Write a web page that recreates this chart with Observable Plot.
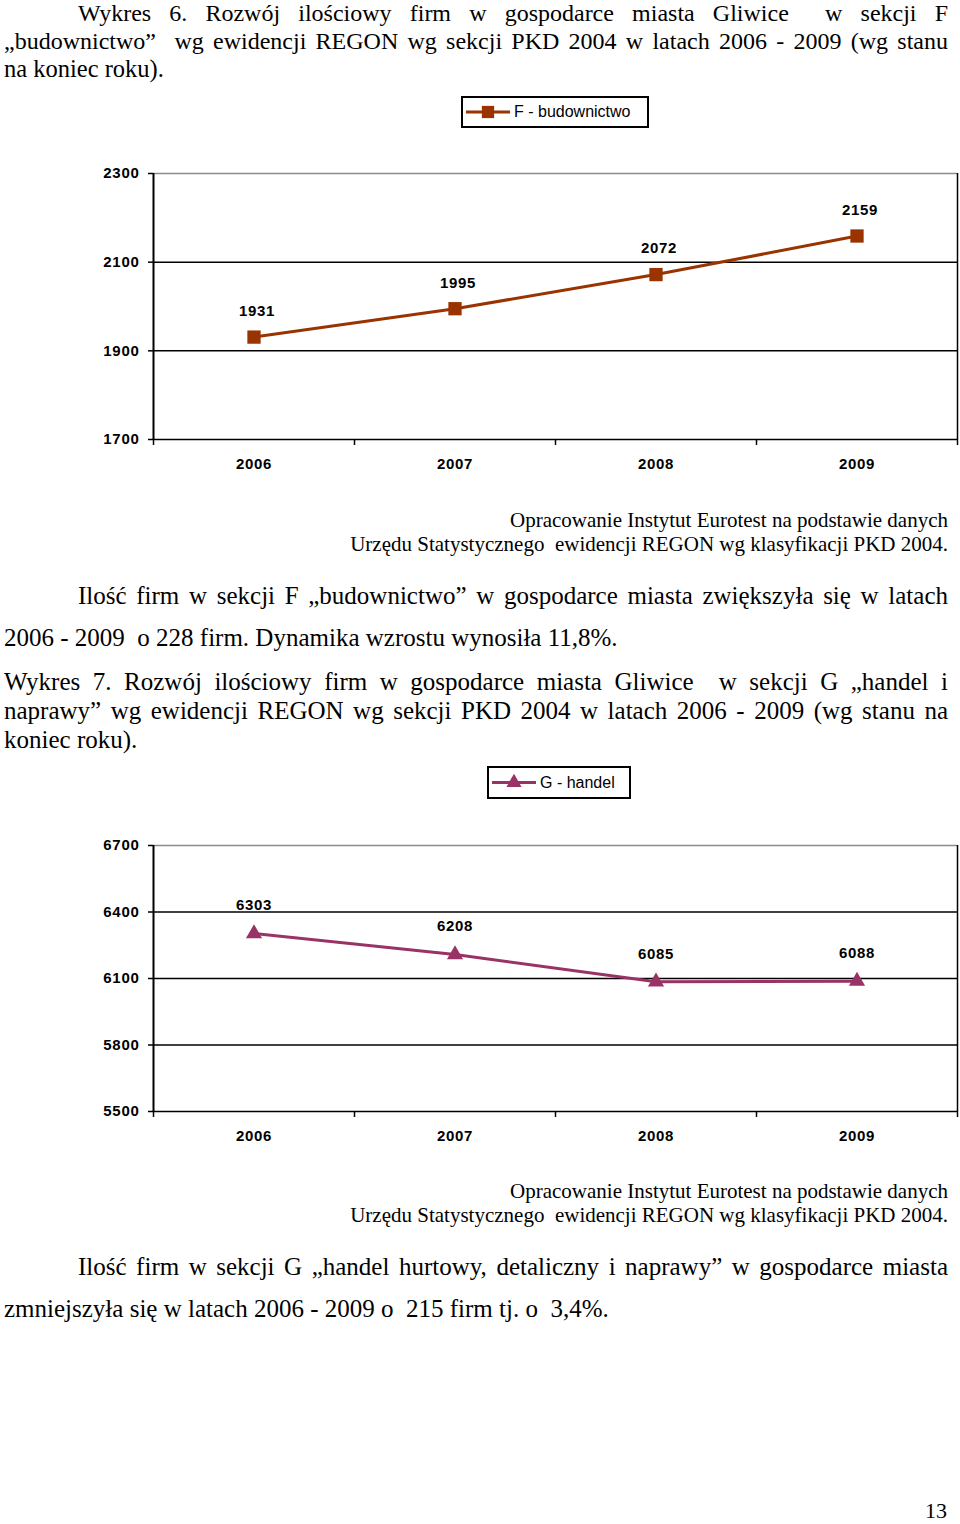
<!DOCTYPE html>
<html><head><meta charset="utf-8">
<script src="https://cdn.jsdelivr.net/npm/d3@7"></script>
<script src="https://cdn.jsdelivr.net/npm/@observablehq/plot@0.6"></script>
<style>
body{margin:0;background:#fff}
#page{position:relative;width:960px;height:1524px;overflow:hidden;font-family:"Liberation Serif","Times New Roman",serif;color:#000;background:#fff}
.t{position:absolute;line-height:1;white-space:nowrap}
.j{white-space:normal;text-align:justify;text-align-last:justify}
.r{text-align:right}
.chart{position:absolute;left:0}
.legend{position:absolute;box-sizing:border-box;border:2px solid #000;font-family:"Liberation Sans",Arial,sans-serif;font-size:16px;background:#fff}
.legend span{position:absolute;line-height:1;white-space:nowrap}
.legend svg{position:absolute;left:0;top:0}
</style></head><body><div id="page"></div>
<script>
// ---- data ----
const years = [2006, 2007, 2008, 2009];
const budownictwo = [1931, 1995, 2072, 2159];
const handel = [6303, 6208, 6085, 6088];
const ticksF = [1700, 1900, 2100, 2300];
const ticksG = [5500, 5800, 6100, 6400, 6700];
const seriesF = "F - budownictwo";
const seriesG = "G - handel";
const colorF = "#993300";
const colorG = "#993366";

// ---- page text ----
const lines = [
  {t:"Wykres 6. Rozwój ilościowy firm w gospodarce miasta Gliwice\u00a0 w sekcji F", x:78, w:870, b:21.5, fs:24, j:true},
  {t:"„budownictwo”\u00a0 wg ewidencji REGON wg sekcji PKD 2004 w latach 2006 - 2009 (wg stanu", x:4, w:944, b:49.5, fs:24, j:true},
  {t:"na koniec roku).", x:4, b:77.5, fs:24.5},
  {t:"Opracowanie Instytut Eurotest na podstawie danych", right:12, b:528, fs:21},
  {t:"Urzędu Statystycznego\u00a0 ewidencji REGON wg klasyfikacji PKD 2004.", right:12, b:552, fs:21},
  {t:"Ilość firm w sekcji F „budownictwo” w gospodarce miasta zwiększyła się w latach", x:78, w:870, b:604, fs:25, j:true},
  {t:"2006 - 2009\u00a0 o 228 firm. Dynamika wzrostu wynosiła 11,8%.", x:4, b:646, fs:25},
  {t:"Wykres 7. Rozwój ilościowy firm w gospodarce miasta Gliwice\u00a0 w sekcji G „handel i", x:4, w:944, b:690, fs:25, j:true},
  {t:"naprawy” wg ewidencji REGON wg sekcji PKD 2004 w latach 2006 - 2009 (wg stanu na", x:4, w:944, b:719, fs:25, j:true},
  {t:"koniec roku).", x:4, b:748, fs:25},
  {t:"Opracowanie Instytut Eurotest na podstawie danych", right:12, b:1199, fs:21},
  {t:"Urzędu Statystycznego\u00a0 ewidencji REGON wg klasyfikacji PKD 2004.", right:12, b:1223, fs:21},
  {t:"Ilość firm w sekcji G „handel hurtowy, detaliczny i naprawy” w gospodarce miasta", x:78, w:870, b:1275, fs:25, j:true},
  {t:"zmniejszyła się w latach 2006 - 2009 o\u00a0 215 firm tj. o\u00a0 3,4%.", x:4, b:1317, fs:25},
  {t:"13", right:13, b:1518, fs:22}
];

const page = document.getElementById("page");
for (const L of lines) {
  const d = document.createElement("div");
  d.className = "t" + (L.j ? " j" : "") + (L.right !== undefined ? " r" : "");
  d.textContent = L.t;
  d.style.fontSize = L.fs + "px";
  d.style.top = (L.b - 0.8375 * L.fs) + "px";
  if (L.right !== undefined) d.style.right = L.right + "px"; else d.style.left = L.x + "px";
  if (L.w) d.style.width = L.w + "px";
  page.appendChild(d);
}

// ---- legends ----
function legend(label, color, symbolName, box) {
  const div = document.createElement("div");
  div.className = "legend";
  Object.assign(div.style, {left: box.x + "px", top: box.y + "px", width: box.w + "px", height: box.h + "px"});
  const ns = "http://www.w3.org/2000/svg";
  const svg = document.createElementNS(ns, "svg");
  svg.setAttribute("width", box.w); svg.setAttribute("height", box.h);
  const cy = box.h / 2 - 2;
  const line = document.createElementNS(ns, "line");
  line.setAttribute("x1", 3); line.setAttribute("x2", 47);
  line.setAttribute("y1", cy); line.setAttribute("y2", cy);
  line.setAttribute("stroke", color); line.setAttribute("stroke-width", 3);
  svg.appendChild(line);
  const p = document.createElementNS(ns, "path");
  const sym = symbolName === "square" ? d3.symbolSquare : d3.symbolTriangle;
  p.setAttribute("d", d3.symbol(sym, symbolName === "square" ? 150 : 100)());
  p.setAttribute("transform", `translate(25,${cy})`);
  p.setAttribute("fill", color);
  svg.appendChild(p);
  div.appendChild(svg);
  const s = document.createElement("span");
  s.textContent = label;
  s.style.left = "51px";
  s.style.top = (cy - 8) + "px";
  div.appendChild(s);
  page.appendChild(div);
}
legend(seriesF, colorF, "square", {x:461, y:96, w:188, h:32});
legend(seriesG, colorG, "triangle", {x:487, y:766, w:144, h:33});

// ---- charts ----
function chart(values, yTicks, color, symbol, r, top, mt, mb, dx, dy) {
  const data = years.map((year, i) => ({year, value: values[i]}));
  const bounds = [...years.map(y => y - 0.5), years[years.length - 1] + 0.5];
  const lo = d3.min(yTicks), hi = d3.max(yTicks);
  const svg = Plot.plot({
    width: 960, height: mt + 266 + mb,
    marginLeft: 153, marginRight: 3, marginTop: mt, marginBottom: mb,
    x: {domain: [bounds[0], bounds[bounds.length - 1]]},
    y: {domain: [lo, hi]},
    style: {fontFamily: "'Liberation Sans', Arial, sans-serif", fontSize: "15px", fontWeight: "bold", color: "#000", background: "transparent", overflow: "visible", letterSpacing: "0.7px"},
    marks: [
      Plot.ruleY(yTicks, {stroke: d => d === hi ? "#8c8c8c" : "#000", strokeWidth: 1.5}),
      Plot.ruleX([bounds[bounds.length - 1]], {stroke: "#000", strokeWidth: 1.5}),
      Plot.axisX({ticks: bounds, tickSize: 6, tickFormat: () => "", stroke: "#000", strokeWidth: 1.5, strokeOpacity: 1, label: null}),
      Plot.axisX({ticks: years, tickSize: 0, tickPadding: 19, tickFormat: d => String(d), label: null, fill: "#000"}),
      Plot.axisY({ticks: yTicks, tickSize: 5, tickPadding: 9, tickFormat: d => String(d), label: null, stroke: "#000", strokeWidth: 1.5, strokeOpacity: 1, fill: "#000"}),
      Plot.ruleX([bounds[0]], {stroke: "#000", strokeWidth: 2}),
      Plot.lineY(data, {x: "year", y: "value", stroke: color, strokeWidth: 3}),
      Plot.dot(data, {x: "year", y: "value", symbol, r, fill: color, stroke: "none"}),
      Plot.text(data, {x: "year", y: "value", text: d => String(d.value), dy, dx, fill: "#000"})
    ]
  });
  svg.style.letterSpacing = "0.7px";
  svg.classList.add("chart");
  svg.style.top = top + "px";
  svg.style.position = "absolute";
  page.appendChild(svg);
}
chart(budownictwo, ticksF, colorF, "square", 7.5, 150, 23, 41, 3, -26);
chart(handel, ticksG, colorG, "triangle", 6, 821, 24, 40, 0, -28);
</script></body></html>
